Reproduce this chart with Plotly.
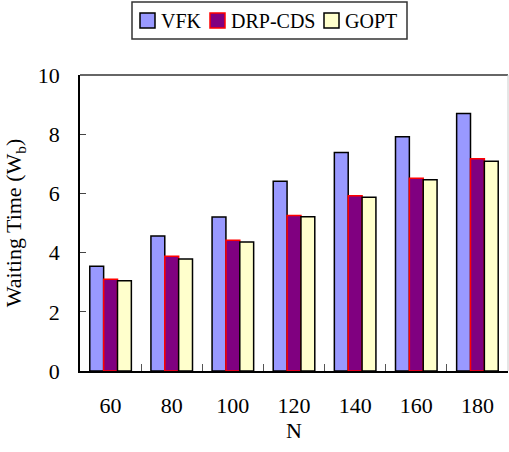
import plotly.graph_objects as go

# Waiting time per number of nodes N for three schemes
categories = ["60", "80", "100", "120", "140", "160", "180"]
vfk = [3.54, 4.56, 5.20, 6.41, 7.38, 7.91, 8.70]
drp_cds = [3.10, 3.88, 4.42, 5.25, 5.92, 6.51, 7.17]
gopt = [3.05, 3.78, 4.36, 5.21, 5.87, 6.46, 7.09]

series_names = ["VFK", "DRP-CDS", "GOPT"]
series_values = [vfk, drp_cds, gopt]
fill_colors = ["#9999FF", "#800080", "#FFFFCC"]
edge_colors = ["#000000", "#FF0000", "#000000"]

font_family = "Liberation Serif, Times New Roman, serif"
tick_size = 22
legend_size = 20

W, H = 509, 452
ML, MR, MT, MB = 80, 1, 75, 81
PW, PH = W - ML - MR, H - MT - MB


def fx(px):
    """Pixel x on the page -> paper x."""
    return (px - ML) / PW


def fy(py):
    """Pixel y on the page (from top) -> paper y."""
    return (H - MB - py) / PH


fig = go.Figure()
for name, vals, fill, edge in zip(series_names, series_values, fill_colors, edge_colors):
    fig.add_trace(go.Bar(
        name=name, x=categories, y=vals, showlegend=False,
        marker=dict(color=fill, line=dict(color=edge, width=1.5)),
    ))

fig.update_layout(
    width=W, height=H,
    margin=dict(l=ML, r=MR, t=MT, b=MB, autoexpand=False),
    paper_bgcolor="white", plot_bgcolor="white",
    font=dict(family=font_family, size=tick_size, color="#000000"),
    barmode="group", bargap=0.32, bargroupgap=0,
    xaxis=dict(
        title=dict(text="N", standoff=5, font=dict(family=font_family, size=tick_size)),
        showline=True, linecolor="#000000", linewidth=1.5,
        ticks="inside", tickson="boundaries", ticklen=7, tickcolor="#555555",
        tickfont=dict(family=font_family, size=tick_size),
        ticklabelstandoff=14,
    ),
    yaxis=dict(
        title=dict(text="Waiting Time (W<sub>b</sub>)", standoff=10,
                   font=dict(family=font_family, size=tick_size)),
        range=[0, 10], dtick=2, showgrid=False,
        showline=True, linecolor="#000000", linewidth=1.5,
        ticks="inside", ticklen=6, tickcolor="#444444",
        tickfont=dict(family=font_family, size=tick_size), zeroline=False,
        ticklabelstandoff=14,
    ),
)

# plot frame: dark top edge, faint right edge
fig.add_shape(type="line", xref="paper", yref="paper", x0=0, x1=1, y0=1, y1=1,
              line=dict(color="#333333", width=1.5))
fig.add_shape(type="line", xref="paper", yref="paper", x0=1, x1=1, y0=0, y1=1,
              line=dict(color="#CCCCCC", width=1))

# boxed legend across the top
fig.add_shape(type="rect", xref="paper", yref="paper",
              x0=fx(132), x1=fx(407), y0=fy(39), y1=fy(2),
              line=dict(color="#333333", width=1.5), fillcolor="white")
square_left = [140, 210, 324]
for name, fill, edge, left in zip(series_names, fill_colors, edge_colors, square_left):
    fig.add_shape(type="rect", xref="paper", yref="paper",
                  x0=fx(left), x1=fx(left + 15), y0=fy(28), y1=fy(13),
                  line=dict(color=edge, width=1.5), fillcolor=fill)
    fig.add_annotation(text=name, xref="paper", yref="paper",
                       x=fx(left + 19), y=fy(21), xanchor="left", yanchor="middle",
                       showarrow=False,
                       font=dict(family=font_family, size=legend_size, color="#000000"))

fig.write_html("out.html")
